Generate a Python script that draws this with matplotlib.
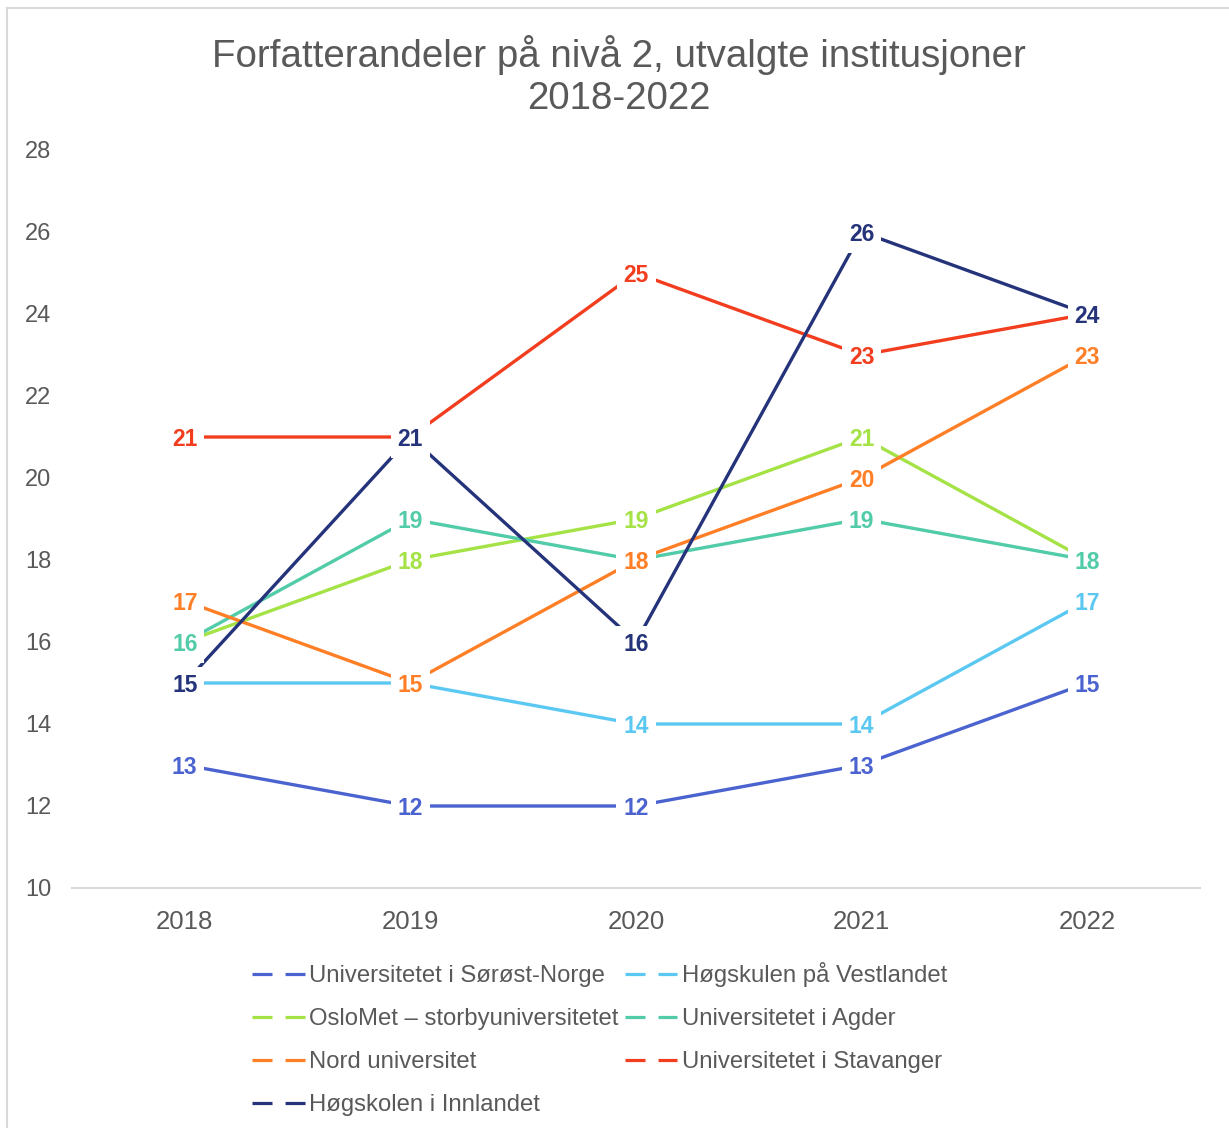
import matplotlib
matplotlib.use('Agg')
import matplotlib.pyplot as plt
from matplotlib.lines import Line2D

plt.rcParams['font.family'] = ['Liberation Sans', 'DejaVu Sans']
plt.rcParams['lines.scale_dashes'] = False

years = ['2018', '2019', '2020', '2021', '2022']
names = ['Universitetet i Sørøst-Norge', 'Høgskulen på Vestlandet',
         'OsloMet – storbyuniversitetet', 'Universitetet i Agder',
         'Nord universitet', 'Universitetet i Stavanger',
         'Høgskolen i Innlandet']
usn = [13, 12, 12, 13, 15]
hvl = [15, 15, 14, 14, 17]
oslomet = [16, 18, 19, 21, 18]
uia = [16, 19, 18, 19, 18]
nord = [17, 15, 18, 20, 23]
uis = [21, 21, 25, 23, 24]
hinn = [15, 21, 16, 26, 24]
series = [usn, hvl, oslomet, uia, nord, uis, hinn]
colors = ['#4B63CF', '#5BC8F2', '#A4E246', '#52CBA8', '#FF7F27', '#F23D1E', '#25337A']

W, H = 1229, 1128
fig = plt.figure(figsize=(W / 100, H / 100), dpi=100)
ax = fig.add_axes([72 / W, 1 - 888 / H, (1200 - 72) / W, (888 - 150) / H])

xs = list(range(len(years)))
for i, (vals, c) in enumerate(zip(series, colors)):
    ax.plot(xs, vals, color=c, lw=2.4, zorder=2 + i * 0.01, clip_on=False)
for i, (vals, c) in enumerate(zip(series, colors)):
    for x, v in zip(xs, vals):
        ax.text(x, v, str(v), color=c, fontsize=16.5, fontweight='bold',
                ha='center', va='center_baseline', zorder=10 + i,
                bbox=dict(boxstyle='square,pad=0.3', fc='white', ec='none'))

ax.set_xlim(-0.5, 4.5)
ax.set_ylim(10, 28)
ax.set_yticks(range(10, 29, 2))
ax.set_xticks(xs)
ax.set_xticklabels(years)
for s in ['top', 'right', 'left']:
    ax.spines[s].set_visible(False)
ax.spines['bottom'].set_color('#D9D9D9')
ax.spines['bottom'].set_linewidth(1.5)
ax.tick_params(axis='both', length=0, colors='#595959')
ax.tick_params(axis='x', labelsize=18.5, pad=16)
ax.tick_params(axis='y', labelsize=17, pad=15)

fig.text(0.5 * (213 + 1025) / W, 1 - 76 / H,
         'Forfatterandeler på nivå 2, utvalgte institusjoner\n2018-2022',
         ha='center', va='center', fontsize=27.7, color='#595959', linespacing=1.2)

# legend filled row by row like the original
order = [0, 2, 4, 6, 1, 3, 5]
handles = [Line2D([], [], color=colors[k], lw=2.3, linestyle=(0, (14.4, 9.4))) for k in order]
labels = [names[k] for k in order]
leg = fig.legend(handles, labels, ncol=2, loc='upper left',
                 bbox_to_anchor=(240 / W, 1 - 950 / H), frameon=False,
                 fontsize=17.2, handlelength=2.2, handletextpad=0.2,
                 columnspacing=0.25, labelspacing=0.88, borderpad=0)
for t in leg.get_texts():
    t.set_color('#595959')

# outer chart border
fig.add_artist(Line2D([7 / W, 7 / W], [0, 1 - 8 / H], color='#D9D9D9', lw=1.5,
                      transform=fig.transFigure))
fig.add_artist(Line2D([7 / W, 1], [1 - 8 / H, 1 - 8 / H], color='#D9D9D9', lw=1.5,
                      transform=fig.transFigure))

fig.savefig('out.png', dpi=100)
